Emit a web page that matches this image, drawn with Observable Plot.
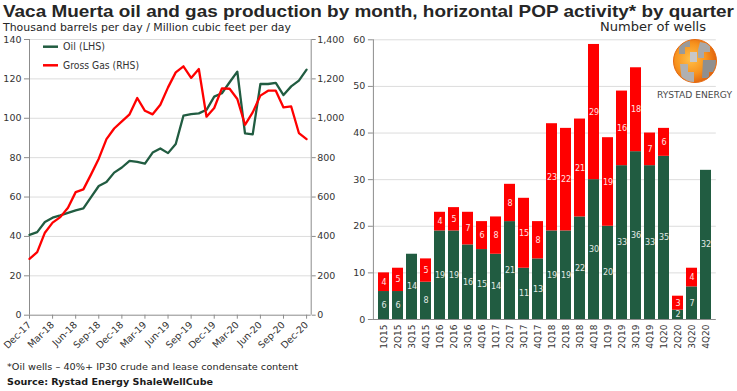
<!DOCTYPE html>
<html><head><meta charset="utf-8">
<script src="https://cdn.jsdelivr.net/npm/d3@7"></script>
<script src="https://cdn.jsdelivr.net/npm/@observablehq/plot@0.6"></script>
<style>
body{margin:0;background:#fff}
#root{position:relative;width:737px;height:391px;overflow:hidden;font-family:"DejaVu Sans",Verdana,sans-serif;background:#fff}
.abs{position:absolute}
</style>
</head><body><div id="root"></div>
<script>
// ---- Data ----
const monthTickLabels = ["Dec-17","Mar-18","Jun-18","Sep-18","Dec-18","Mar-19","Jun-19","Sep-19","Dec-19","Mar-20","Jun-20","Sep-20","Dec-20"];
// monthly, Dec-17 .. Dec-20 (thousand barrels per day)
const oilProduction = [40.8,42.2,47.3,49.5,50.7,52,53.2,54.2,60,65.6,67.6,72.4,75,78.4,77.9,77,82.6,84.7,82.3,86.9,101.3,102.1,102.5,104.3,111,112.7,118.3,123.7,92.3,91.8,117.4,117.4,118,111.8,116.2,119.1,124.7];
// monthly, Dec-17 .. Dec-20 (million cubic feet per day)
const gasProduction = [286,320,419,470,498,546,625,639,715,795,894,948,984,1020,1103,1038,1020,1069,1157,1233,1264,1205,1250,1008,1052,1152,1150,1098,967,1030,1115,1140,1140,1055,1060,925,894];
const quarters = ["1Q15","2Q15","3Q15","4Q15","1Q16","2Q16","3Q16","4Q16","1Q17","2Q17","3Q17","4Q17","1Q18","2Q18","3Q18","4Q18","1Q19","2Q19","3Q19","4Q19","1Q20","2Q20","3Q20","4Q20"];
const oilWells = [6,6,14,8,19,19,16,15,14,21,11,13,19,19,22,30,20,33,36,33,35,2,7,32];
const gasWells = [4,5,0,5,4,5,7,6,8,8,15,8,23,22,21,29,19,16,18,7,6,3,4,0];

const GREEN = "#215c41", RED = "#ff0000", AXIS = "#8c8c8c", GRID = "#dcdcdc", TXT = "#333";
const root = document.getElementById("root");
const fam = '"DejaVu Sans", Verdana, sans-serif';

// ---- Left chart: production lines ----
const monthIdx = oilProduction.map((_, i) => i);
const leftTicks = d3.range(0, 141, 20);
const left = Plot.plot({
  width: 350, height: 320,
  marginLeft: 29, marginRight: 39.3, marginTop: 9, marginBottom: 35.3,
  x: {domain: [0, 36.6]},
  y: {domain: [0, 140]},
  style: {fontFamily: fam, fontSize: "9.5px", color: TXT, background: "transparent", overflow: "visible"},
  marks: [
    Plot.gridY(d3.range(20, 141, 20), {stroke: GRID, strokeOpacity: 1}),
    Plot.axisY(leftTicks, {tickSize: 5, tickPadding: 3, label: null, stroke: AXIS}),
    Plot.axisY(leftTicks, {anchor: "right", tickSize: 4, tickPadding: 2, label: null, stroke: AXIS,
      tickFormat: d => d3.format(",")(d * 10)}),
    Plot.axisX(d3.range(0, 37, 3), {tickSize: 4, tickPadding: 4, tickRotate: -45, label: null, stroke: AXIS,
      fontSize: 9.5, tickFormat: d => monthTickLabels[Math.round(d / 3)]}),
    Plot.ruleX([0, 36.6], {stroke: AXIS, strokeWidth: 1}),
    Plot.ruleY([0], {stroke: AXIS, strokeWidth: 1}),
    Plot.lineY(oilProduction, {x: monthIdx, y: d => d, stroke: GREEN, strokeWidth: 2.3}),
    Plot.lineY(gasProduction, {x: monthIdx, y: d => d / 10, stroke: RED, strokeWidth: 2.3})
  ]
});
left.classList.add("abs");
left.style.left = "0px"; left.style.top = "30px";
root.appendChild(left);

// ---- Right chart: wells by quarter ----
const rows = quarters.flatMap((q, i) => [
  {q, type: "oil", value: oilWells[i]},
  {q, type: "gas", value: gasWells[i]}
]).filter(d => d.value > 0);
const right = Plot.plot({
  width: 407, height: 320,
  marginLeft: 42.9, marginRight: 21.2, marginTop: 9.3, marginBottom: 31,
  x: {domain: quarters, padding: 0.2},
  y: {domain: [0, 60]},
  color: {domain: ["oil", "gas"], range: [GREEN, RED]},
  style: {fontFamily: fam, fontSize: "9.5px", color: TXT, background: "transparent", overflow: "visible"},
  marks: [
    Plot.gridY(d3.range(10, 61, 10), {stroke: GRID, strokeOpacity: 1}),
    Plot.axisY(d3.range(0, 61, 10), {tickSize: 5, tickPadding: 3, label: null, stroke: AXIS}),
    Plot.axisX({tickSize: 0, tickPadding: 5, tickRotate: -90, label: null, fontSize: 9}),
    Plot.barY(rows, {x: "q", y: "value", fill: "type", order: ["oil", "gas"]}),
    Plot.text(rows, Plot.stackY({x: "q", y: "value", z: "type", order: ["oil", "gas"],
      text: d => String(d.value), fontSize: 8,
      fill: d => d.type === "oil" ? "#e3e9e5" : "#ffe3e3"})),
    Plot.frame({anchor: "left", stroke: AXIS}),
    Plot.ruleY([0], {stroke: AXIS, strokeWidth: 1})
  ]
});
right.classList.add("abs");
right.style.left = "330px"; right.style.top = "30px";
root.appendChild(right);

// ---- Titles, legend, logo, notes ----
const ns = "http://www.w3.org/2000/svg";
const ov = document.createElementNS(ns, "svg");
ov.setAttribute("width", 737); ov.setAttribute("height", 391);
ov.setAttribute("class", "abs"); ov.style.left = "0px"; ov.style.top = "0px"; ov.style.pointerEvents = "none";
root.appendChild(ov);
function txt(s, x, y, size, opts = {}) {
  const t = document.createElementNS(ns, "text");
  t.textContent = s;
  t.setAttribute("x", x); t.setAttribute("y", y);
  t.setAttribute("font-size", size);
  t.setAttribute("font-family", opts.family || fam);
  t.setAttribute("fill", opts.fill || "#222");
  if (opts.bold) t.setAttribute("font-weight", "bold");
  ov.appendChild(t);
  if (opts.len) {
    // shrink the font if the natural width is wider than the target, then fit exactly
    const natural = t.getComputedTextLength();
    if (natural > opts.len * 1.04) t.setAttribute("font-size", size * opts.len * 1.04 / natural);
    t.setAttribute("textLength", opts.len); t.setAttribute("lengthAdjust", "spacingAndGlyphs");
  }
  return t;
}
function el(tag, attrs) {
  const e = document.createElementNS(ns, tag);
  for (const k in attrs) e.setAttribute(k, attrs[k]);
  ov.appendChild(e); return e;
}
txt("Vaca Muerta oil and gas production by month, horizontal POP activity* by quarter", 3, 17, 16.5,
  {bold: true, len: 731, fill: "#262626", family: '"Liberation Sans", Arial, sans-serif'});
txt("Thousand barrels per day / Million cubic feet per day", 3, 30.5, 11.5, {len: 288, fill: "#262626"});
txt("Number of wells", 600, 30.5, 11.5, {len: 106, fill: "#262626"});
// legend
el("line", {x1: 43, x2: 58, y1: 46.7, y2: 46.7, stroke: GREEN, "stroke-width": 2.5});
txt("Oil (LHS)", 63, 50, 9.6, {len: 42, fill: TXT});
el("line", {x1: 43, x2: 58, y1: 65.3, y2: 65.3, stroke: RED, "stroke-width": 2.5});
txt("Gross Gas (RHS)", 63, 68.6, 9.6, {len: 76, fill: TXT});
// logo
const defs = el("defs", {});
defs.innerHTML = '<radialGradient id="og" cx="0.4" cy="0.45" r="0.6"><stop offset="0" stop-color="#ffc04a"/><stop offset="0.6" stop-color="#f7931e"/><stop offset="1" stop-color="#e0620c"/></radialGradient>' +
  '<clipPath id="cp"><circle cx="695" cy="61" r="21"/></clipPath>';
el("circle", {cx: 695, cy: 61, r: 21.5, fill: "url(#og)", stroke: "#e66a10", "stroke-width": 1});
const g = el("g", {"clip-path": "url(#cp)"});
g.innerHTML = '<path d="M683 40 L690 40 L690 47 L685 47 L685 54 L679 54 L679 46 Z" fill="#9a9a9a"/>' +
  '<path d="M700 42 L710 44 L710 52 L704 52 L704 58 L698 58 L698 50 Z" fill="#a8a8a8"/>' +
  '<path d="M703 60 L716 60 L716 72 L709 72 L709 78 L702 78 Z" fill="#8f8f8f"/>' +
  '<path d="M680 64 L688 64 L688 72 L694 72 L694 82 L682 82 Z" fill="#b0b0b0"/>' +
  '<path d="M690 52 L697 52 L697 62 L690 62 Z" fill="#c8c8c8"/>';
txt("RYSTAD ENERGY", 657, 98, 8.5, {len: 75, fill: "#4a4a4a"});
// footnotes
txt("*Oil wells \u2013 40%+ IP30 crude and lease condensate content", 7, 369.5, 9.5, {len: 291, fill: "#262626"});
txt("Source: Rystad Energy ShaleWellCube", 7, 385, 9.5, {bold: true, len: 206, fill: "#1a1a1a"});
</script></body></html>
